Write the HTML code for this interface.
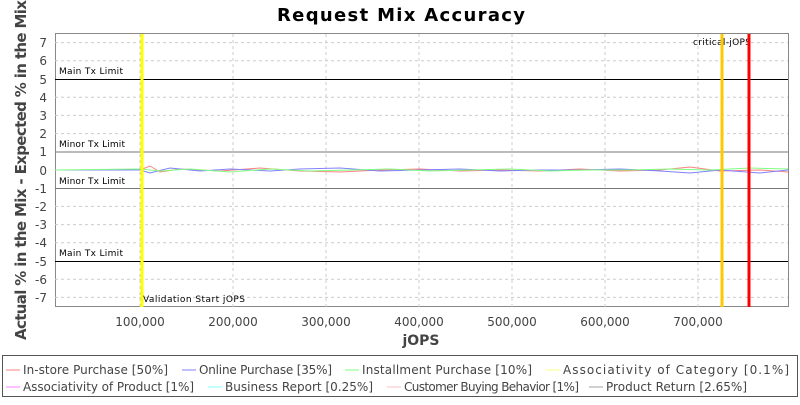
<!DOCTYPE html>
<html><head><style>
body{margin:0;background:#fff;width:800px;height:400px;overflow:hidden;font-family:"Liberation Sans","DejaVu Sans",sans-serif}
</style></head><body>
<svg width="800" height="400" xmlns="http://www.w3.org/2000/svg" font-family="DejaVu Sans, Liberation Sans, sans-serif">
<text x="277" y="21" textLength="248" font-size="18" font-weight="bold" fill="#000">Request Mix Accuracy</text>
<rect x="55.5" y="33.5" width="733" height="273" fill="#fff" stroke="#888"/>
<g stroke="#ccc" stroke-dasharray="3,3" stroke-width="1">
<line x1="55" x2="788" y1="42.6" y2="42.6"/><line x1="55" x2="788" y1="60.8" y2="60.8"/><line x1="55" x2="788" y1="97.2" y2="97.2"/><line x1="55" x2="788" y1="115.4" y2="115.4"/><line x1="55" x2="788" y1="133.6" y2="133.6"/><line x1="55" x2="788" y1="206.4" y2="206.4"/><line x1="55" x2="788" y1="224.6" y2="224.6"/><line x1="55" x2="788" y1="242.8" y2="242.8"/><line x1="55" x2="788" y1="279.2" y2="279.2"/><line x1="55" x2="788" y1="297.4" y2="297.4"/>
<line y1="34" y2="307" x1="140" x2="140"/><line y1="34" y2="307" x1="233" x2="233"/><line y1="34" y2="307" x1="326" x2="326"/><line y1="34" y2="307" x1="419" x2="419"/><line y1="34" y2="307" x1="512" x2="512"/><line y1="34" y2="307" x1="605" x2="605"/><line y1="34" y2="307" x1="698" x2="698"/>
</g>
<g stroke-width="1">
<line x1="55" x2="788" y1="79.5" y2="79.5" stroke="#000"/>
<line x1="55" x2="788" y1="261.5" y2="261.5" stroke="#000"/>
<line x1="55" x2="788" y1="152" y2="152" stroke="#777"/>
<line x1="55" x2="788" y1="188.5" y2="188.5" stroke="#777"/>
</g>
<g font-size="9" fill="#000">
<text x="59" y="74" textLength="64">Main Tx Limit</text>
<text x="59" y="147" textLength="66">Minor Tx Limit</text>
<text x="59" y="184" textLength="66">Minor Tx Limit</text>
<text x="59" y="256" textLength="64">Main Tx Limit</text>
<text x="143" y="302" textLength="102">Validation Start jOPS</text>
<text x="693" y="45" textLength="58">critical-jOPS</text>
</g>
<polyline fill="none" stroke="#ff8080" points="55,170 140,170 150,166 160,172 180,169 220,171 260,168 300,171 340,172 380,170 420,169 460,171 500,170 540,171 580,169 620,171 660,170 690,167 720,171 760,170 788,172"/>
<polyline fill="none" stroke="#8080ff" points="55,170 140,170 150,173 170,168 200,171 230,169 270,171 300,169 340,168 380,171 420,170 460,169 500,171 540,170 580,170 620,169 660,171 690,173 720,170 760,173 788,170"/>
<polyline fill="none" stroke="#80ff80" points="55,170 140,169 160,171 190,169 230,172 270,169 310,171 350,170 390,169 430,171 470,170 510,169 550,171 590,170 630,170 670,169 710,170 750,168 788,169"/>
<line x1="142" x2="142" y1="34" y2="307" stroke="#ffff00" stroke-width="3"/>
<line x1="722" x2="722" y1="34" y2="307" stroke="#ffc800" stroke-width="3"/>
<line x1="749" x2="749" y1="34" y2="307" stroke="#ff0000" stroke-width="3"/>
<g font-size="12" fill="#444" text-anchor="end">
<text x="47" y="47">7</text><text x="47" y="65">6</text><text x="47" y="84">5</text><text x="47" y="102">4</text><text x="47" y="120">3</text><text x="47" y="138">2</text><text x="47" y="156">1</text><text x="47" y="175">0</text><text x="47" y="193">-1</text><text x="47" y="211">-2</text><text x="47" y="229">-3</text><text x="47" y="247">-4</text><text x="47" y="266">-5</text><text x="47" y="284">-6</text><text x="47" y="302">-7</text>
</g>
<g font-size="12" fill="#444" text-anchor="middle">
<text x="140" y="326">100,000</text><text x="233" y="326">200,000</text><text x="326" y="326">300,000</text><text x="419" y="326">400,000</text><text x="512" y="326">500,000</text><text x="605" y="326">600,000</text><text x="698" y="326">700,000</text>
</g>
<text x="421" y="345" text-anchor="middle" font-size="14" font-weight="bold" fill="#444">jOPS</text>
<text transform="translate(26,170) rotate(-90)" x="-170" y="0" textLength="340" font-size="15" font-weight="bold" fill="#444">Actual % in the Mix - Expected % in the Mix</text>
<rect x="2.5" y="355.5" width="795" height="41" fill="#fff" stroke="#555"/>
<g font-size="12" fill="#444">
<line x1="6" x2="20" y1="370" y2="370" stroke="#ff8080"/><text x="23" y="374" textLength="145">In-store Purchase [50%]</text>
<line x1="182" x2="196" y1="370" y2="370" stroke="#8080ff"/><text x="199" y="374" textLength="133">Online Purchase [35%]</text>
<line x1="345" x2="359" y1="370" y2="370" stroke="#80ff80"/><text x="362" y="374" textLength="170">Installment Purchase [10%]</text>
<line x1="546" x2="560" y1="370" y2="370" stroke="#ffff80"/><text x="563" y="374" textLength="226">Associativity of Category [0.1%]</text>
<line x1="6" x2="20" y1="387" y2="387" stroke="#ff80ff"/><text x="23" y="391" textLength="171">Associativity of Product [1%]</text>
<line x1="208" x2="222" y1="387" y2="387" stroke="#80ffff"/><text x="225" y="391" textLength="148">Business Report [0.25%]</text>
<line x1="387" x2="401" y1="387" y2="387" stroke="#ffc0c0"/><text x="404" y="391" textLength="175">Customer Buying Behavior [1%]</text>
<line x1="589" x2="603" y1="387" y2="387" stroke="#a0a0a0"/><text x="606" y="391" textLength="141">Product Return [2.65%]</text>
</g>
</svg>
</body></html>
